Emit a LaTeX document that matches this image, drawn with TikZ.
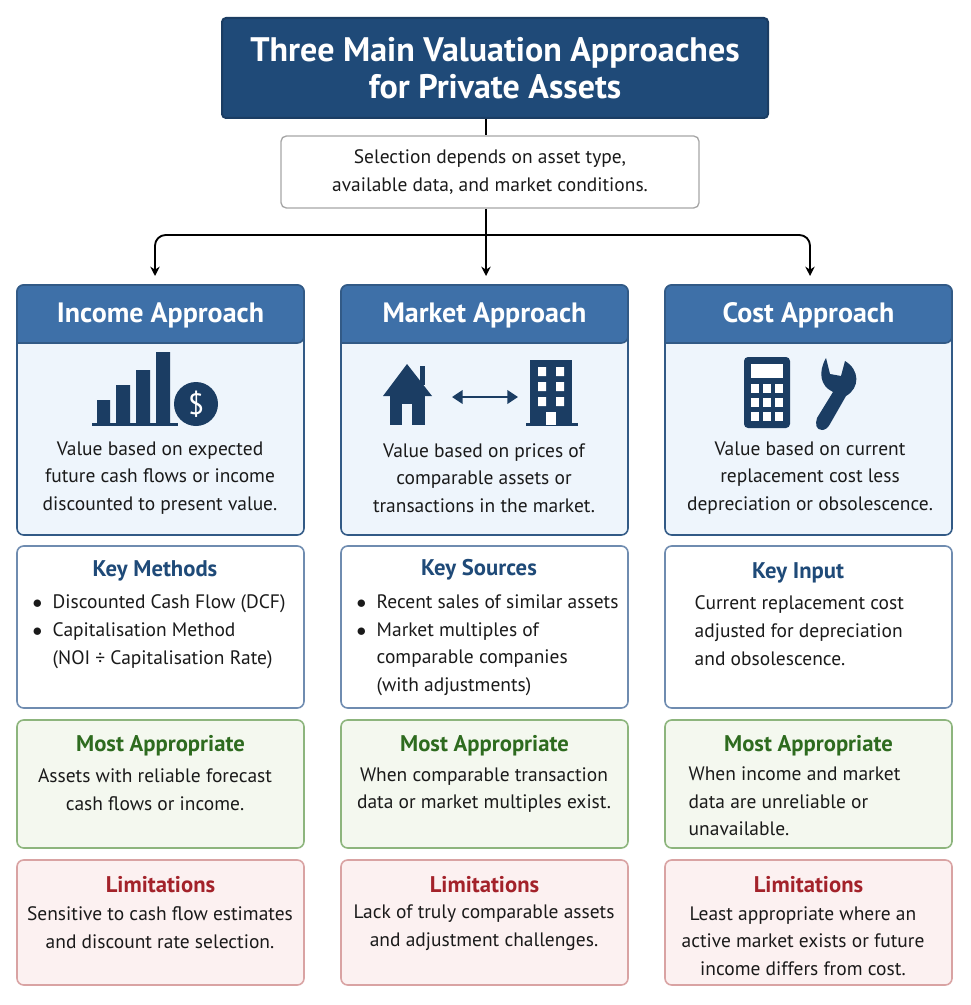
\documentclass[tikz,border=0pt]{standalone}
\usepackage{fontspec}
\setmainfont{PT Sans}
\usetikzlibrary{arrows.meta}
\definecolor{navy}{HTML}{1F4A78}
\definecolor{hdr}{HTML}{3E70A8}
\definecolor{ice}{HTML}{EEF5FC}
\definecolor{icon}{HTML}{1B3D63}
\definecolor{grn}{HTML}{2E6B1F}
\definecolor{grnb}{HTML}{8DB57D}
\definecolor{grnf}{HTML}{F4F8EF}
\definecolor{red}{HTML}{A3222A}
\definecolor{redb}{HTML}{D9A3A3}
\definecolor{redf}{HTML}{FCF1F1}
\definecolor{keyb}{HTML}{6F8CB0}
\definecolor{txt}{HTML}{1A1A1A}
\tikzset{
 card/.style={draw=#1,line width=1.2pt,rounded corners=5pt},
 body/.style={font=\fontsize{14.6}{20.8}\selectfont,text=txt,align=center},
 ttl/.style={font=\fontsize{17}{20}\selectfont\bfseries},
 conn/.style={draw=black,line width=1.4pt},
 arr/.style={conn,-{Stealth[length=7pt,width=7pt]}},
}
\begin{document}
\begin{tikzpicture}[x=0.75pt,y=-0.75pt]
\useasboundingbox (0,0) rectangle (970,1005);
% title
\node[draw=icon,fill=navy,rounded corners=3pt,line width=1.5pt,minimum width=546*0.75pt,minimum height=100*0.75pt,
  text=white,align=center,font=\fontsize{25.5}{28}\selectfont\bfseries] (title) at (495,68) {Three Main Valuation Approaches\\for Private Assets};
\node[draw=gray!70,rounded corners=4pt,line width=1pt,minimum width=418*0.75pt,minimum height=72*0.75pt,
  body] (sel) at (490,172) {Selection depends on asset type,\\available data, and market conditions.};
\draw[conn] (title.south -| 486,0) -- (sel.north -| 486,0);
\coordinate (jl) at (155,235); \coordinate (jr) at (810,235);
\coordinate (t1) at (155,276); \coordinate (t2) at (486,276); \coordinate (t3) at (810,276);
\draw[arr] (sel.south -| 486,0) -- (t2);
\draw[arr,rounded corners=8pt] (486,235) -- (jl) -- (t1);
\draw[arr,rounded corners=8pt] (486,235) -- (jr) -- (t3);
% columns
\foreach \c/\x/\hd in {1/17/Income Approach,2/341/Market Approach,3/665/Cost Approach}{
 \begin{scope}
 \draw[card=hdr!80!black,fill=ice] (\x,285) rectangle (\x+287,535);
 \draw[card=hdr!80!black,fill=hdr] (\x,285) [rounded corners=5pt] -- (\x+287,285) -- (\x+287,343) [sharp corners] -- (\x,343) [rounded corners=5pt] -- cycle;
 \node[text=white,font=\fontsize{21}{24}\selectfont\bfseries] (h\c) at (\x+143.5,315) {\hd};
 \draw[card=keyb,fill=white] (\x,546) rectangle (\x+287,708);
 \draw[card=grnb,fill=grnf] (\x,720) rectangle (\x+287,848);
 \draw[card=redb,fill=redf] (\x,860) rectangle (\x+287,985);
 \node[ttl,text=grn] (m\c) at (\x+143.5,746) {Most Appropriate};
 \node[ttl,text=red] (l\c) at (\x+143.5,885) {Limitations};
 \end{scope}
}
% body texts
\node[body] (d1) at (160,478) {Value based on expected\\future cash flows or income\\discounted to present value.};
\node[body] (d2) at (484,478) {Value based on prices of\\comparable assets or\\transactions in the market.};
\node[body] (d3) at (810,478) {Value based on current\\replacement cost less\\depreciation or obsolescence.};
\node[ttl,text=navy] (k1) at (155,571) {Key Methods};
\node[ttl,text=navy] (k2) at (479,570) {Key Sources};
\node[ttl,text=navy] (k3) at (798,573) {Key Input};
\node[body,align=left,anchor=north west] (kb1) at (28,590) {$\bullet$\ \ Discounted Cash Flow (DCF)\\$\bullet$\ \ Capitalisation Method\\\phantom{$\bullet$\ \ }(NOI ÷ Capitalisation Rate)};
\node[body,align=left,anchor=north west] (kb2) at (352,590) {$\bullet$\ \ Recent sales of similar assets\\$\bullet$\ \ Market multiples of\\\phantom{$\bullet$\ \ }comparable companies\\\phantom{$\bullet$\ \ }(with adjustments)};
\node[body,align=left,anchor=north west] (kb3) at (690,591) {Current replacement cost\\adjusted for depreciation\\and obsolescence.};
\node[body] (ma1) at (155,790) {Assets with reliable forecast\\cash flows or income.};
\node[body] (ma2) at (484,790) {When comparable transaction\\data or market multiples exist.};
\node[body,align=left,anchor=north west] (ma3) at (684,762) {When income and market\\data are unreliable or\\unavailable.};
\node[body] (li1) at (160,928) {Sensitive to cash flow estimates\\and discount rate selection.};
\node[body] (li2) at (484,928) {Lack of truly comparable assets\\and adjustment challenges.};
\node[body] (li3) at (803,941) {Least appropriate where an\\active market exists or future\\income differs from cost.};
% income icon
\fill[icon] (97,400) rectangle (110,425) (116,385) rectangle (130,425) (136,370) rectangle (150,425) (156,352) rectangle (170,425);
\fill[icon] (92,423) rectangle (178,426);
\fill[icon] (196,404) circle (22);
\node[text=white,font=\fontsize{22}{22}\selectfont] (dol) at (196,404) {\$};
% market icon
\fill[icon] (383,396) -- (407,364) -- (432,396) -- cycle;
\fill[icon] (420,366) rectangle (425,385);
\fill[icon] (390,394) rectangle (425,425);
\fill[ice] (402,404) rectangle (412,425);
\coordinate (ml) at (452,397); \coordinate (mr) at (518,397);
\draw[icon,line width=2.2pt,{Triangle[length=8pt,width=10pt]}-{Triangle[length=8pt,width=10pt]}] (ml) -- (mr);
\fill[icon] (530,360) rectangle (572,425);
\fill[icon] (526,423) rectangle (578,426);
\foreach \yy in {367,382,397}{\fill[white] (538,\yy) rectangle (546,\yy+9) (556,\yy) rectangle (564,\yy+9);}
\fill[white] (546,412) rectangle (556,425);
% cost icon
\fill[icon,rounded corners=3pt] (744,357) rectangle (790,428);
\fill[white] (751,364) rectangle (783,378);
\foreach \yy in {384,398,412}{\foreach \xx in {751,763,775}{\fill[white] (\xx,\yy) rectangle (\xx+8,\yy+9);}}
\fill[icon] (822,430) .. controls (816,430) and (815,424) .. (817,418) -- (833,392)
  .. controls (820,386) and (818,372) .. (826,358) -- (830,374) -- (841,376) -- (845,361)
  .. controls (860,370) and (860,388) .. (846,396) -- (830,424) .. controls (828,428) and (825,430) .. (822,430) -- cycle;
\end{tikzpicture}
\end{document}
